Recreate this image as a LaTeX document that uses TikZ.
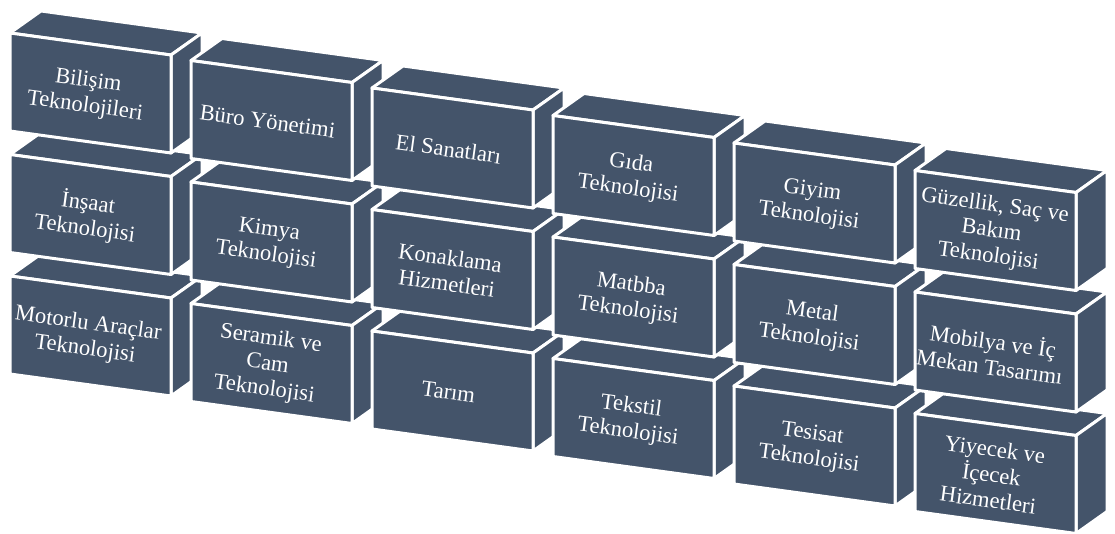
\documentclass[tikz,border=0pt]{standalone}
\usepackage{fontspec}
\setmainfont{Liberation Serif}
\newfontfamily\lblfont{Liberation Serif}
\definecolor{slate}{HTML}{44546A}
\tikzset{
  face/.style={fill=slate, draw=white, line width=3pt, line join=round},
  lbl/.style={text=white, font=\lblfont\fontsize{22.6}{25.5}\selectfont, align=center, rotate=-7.8, inner sep=0pt}
}
\begin{document}
\begin{tikzpicture}[x=1pt,y=-1pt]
\useasboundingbox (0,0) rectangle (1115,534);
\foreach \c in {0,...,5}{
  \foreach \r in {2,1,0}{
    \pgfmathsetmacro\bx{10+181*\c}
    \pgfmathsetmacro\by{33+27.5*\c+121.5*\r}
    % top face
    \path[face] (\bx,\by) -- (\bx+31,\by-22) -- (\bx+192,\by) -- (\bx+161,\by+22) -- cycle;
    % side face
    \path[face] (\bx+161,\by+22) -- (\bx+192,\by) -- (\bx+192,\by+98) -- (\bx+161,\by+120) -- cycle;
    % front face
    \path[face] (\bx,\by) -- (\bx+161,\by+22) -- (\bx+161,\by+120) -- (\bx,\by+98) -- cycle;
  }
}
\foreach \c/\r/\t in {
  0/0/{Bilişim\\Teknolojileri},
  1/0/{Büro Yönetimi},
  2/0/{El Sanatları},
  3/0/{Gıda\\Teknolojisi},
  4/0/{Giyim\\Teknolojisi},
  5/0/{Güzellik, Saç ve\\Bakım\\Teknolojisi},
  0/1/{İnşaat\\Teknolojisi},
  1/1/{Kimya\\Teknolojisi},
  2/1/{Konaklama\\Hizmetleri},
  3/1/{Matbba\\Teknolojisi},
  4/1/{Metal\\Teknolojisi},
  5/1/{Mobilya ve İç\\Mekan Tasarımı},
  0/2/{Motorlu Araçlar\\Teknolojisi},
  1/2/{Seramik ve\\Cam\\Teknolojisi},
  2/2/{Tarım},
  3/2/{Tekstil\\Teknolojisi},
  4/2/{Tesisat\\Teknolojisi},
  5/2/{Yiyecek ve\\İçecek\\Hizmetleri}}{
  \node[lbl] (n\c\r) at (10+181*\c+76.5, 33+27.5*\c+121.5*\r+61) {\t};
}
\end{tikzpicture}
\end{document}
